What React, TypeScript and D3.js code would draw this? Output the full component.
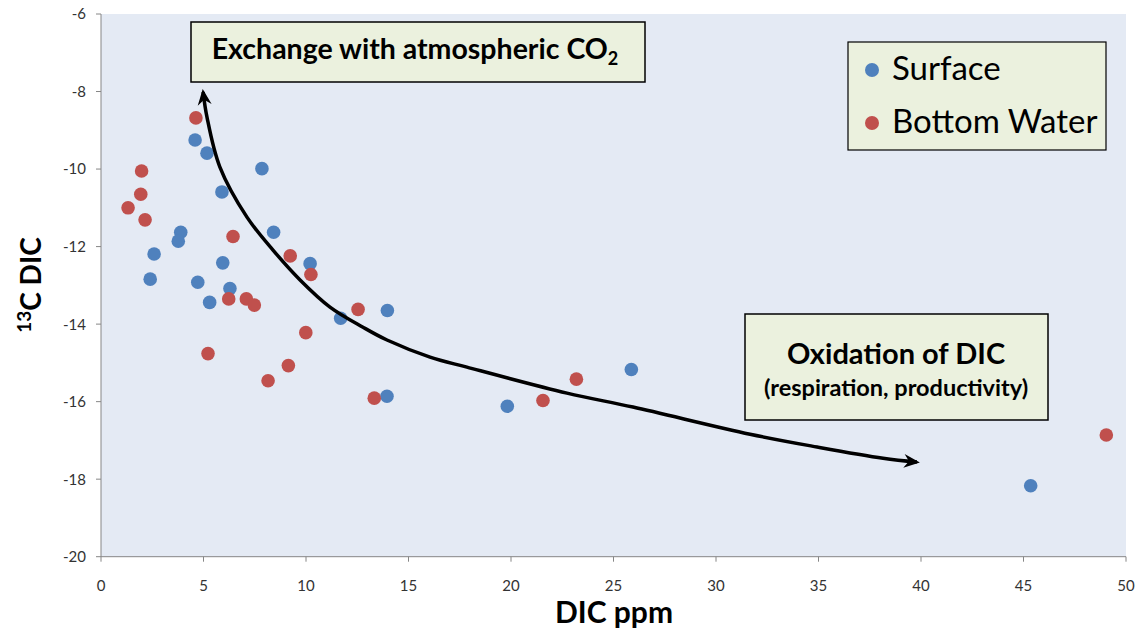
import React from "react";
import * as d3 from "d3";

// ---- Data ----
const surfaceDIC = [4.59, 5.17, 7.85, 5.9, 3.89, 3.77, 8.42, 2.59, 5.94, 10.2, 2.4, 4.72, 6.29, 5.3, 13.97, 11.69, 13.95, 19.82, 25.87, 45.35];
const surfaceC13 = [-9.25, -9.59, -9.99, -10.59, -11.63, -11.86, -11.63, -12.19, -12.42, -12.44, -12.84, -12.92, -13.08, -13.44, -13.65, -13.85, -15.86, -16.12, -15.17, -18.17];

const bottomDIC = [4.63, 1.98, 1.94, 1.32, 2.15, 6.44, 9.23, 10.24, 6.23, 7.09, 7.48, 12.54, 9.99, 5.22, 9.14, 8.15, 13.33, 21.56, 23.19, 49.04];
const bottomC13 = [-8.68, -10.05, -10.65, -11.0, -11.31, -11.74, -12.24, -12.72, -13.35, -13.35, -13.51, -13.62, -14.22, -14.76, -15.07, -15.46, -15.91, -15.97, -15.42, -16.86];

const xTicks = [0, 5, 10, 15, 20, 25, 30, 35, 40, 45, 50];
const yTicks = [-6, -8, -10, -12, -14, -16, -18, -20];

// annotation arrow path (in data units)
const arrowDIC = [4.98, 5.17, 5.8, 7.12, 8.39, 9.71, 11.17, 12.78, 13.95, 16.05, 17.85, 22.73, 25.95, 31.66, 34.93, 38.15, 39.8];
const arrowC13 = [-8.01, -8.66, -9.95, -11.24, -12.09, -12.86, -13.56, -14.08, -14.41, -14.85, -15.11, -15.78, -16.14, -16.84, -17.17, -17.46, -17.56];

const seriesNames = ["Surface", "Bottom Water"];
const seriesColors = ["#4F81BD", "#C0504D"];

const W = 1138;
const H = 630;
const left = 101;
const right = 1126;
const top = 14;
const bottom = 556.7;

export default function App() {
  const x = d3.scaleLinear().domain([0, 50]).range([left, right]);
  const y = d3.scaleLinear().domain([-6, -20]).range([top, bottom]);

  const series = [
    surfaceDIC.map((d, i) => [d, surfaceC13[i]]),
    bottomDIC.map((d, i) => [d, bottomC13[i]]),
  ];

  const arrowPts = arrowDIC.map((d, i) => [d, arrowC13[i]] as [number, number]);
  const line = d3
    .line<[number, number]>()
    .x((d) => x(d[0]))
    .y((d) => y(d[1]))
    .curve(d3.curveCatmullRom.alpha(0.5));

  const font = "Lato, 'Open Sans', sans-serif";
  const boxFill = "#EBF1DE";

  return (
    <svg
      width={W}
      height={H}
      style={{ position: "absolute", left: 0, top: 0, background: "#fff" }}
      fontFamily={font}
    >
      <defs>
        <marker
          id="arr"
          viewBox="-17 -9 21 18"
          markerWidth={21}
          markerHeight={18}
          refX={-3}
          refY={0}
          markerUnits="userSpaceOnUse"
          orient="auto-start-reverse"
        >
          <path d="M0,0 L-16,-7 L-11,0 L-16,7 Z" fill="#000" />
        </marker>
      </defs>

      {/* plot area */}
      <rect x={left} y={top} width={right - left} height={bottom - top} fill="#E4EAF4" />

      {/* axes */}
      <line x1={left} x2={left} y1={top} y2={bottom} stroke="#868686" strokeWidth={1} />
      <line x1={left} x2={right} y1={bottom} y2={bottom} stroke="#868686" strokeWidth={1} />
      {yTicks.map((t) => (
        <g key={"y" + t}>
          <line x1={left - 5} x2={left} y1={y(t)} y2={y(t)} stroke="#868686" />
          <text x={left - 15} y={y(t)} dy="0.36em" textAnchor="end" fontSize={15} fill="#333">
            {t}
          </text>
        </g>
      ))}
      {xTicks.map((t) => (
        <g key={"x" + t}>
          <line x1={x(t)} x2={x(t)} y1={bottom} y2={bottom + 5} stroke="#868686" />
          <text x={x(t)} y={bottom + 34} textAnchor="middle" fontSize={15} fill="#333">
            {t}
          </text>
        </g>
      ))}

      {/* axis titles */}
      <text x={614} y={623} textAnchor="middle" fontSize={30} fontWeight="bold" fill="#000">
        DIC ppm
      </text>
      <text
        transform="translate(41,285) rotate(-90)"
        textAnchor="middle"
        fontSize={28}
        fontWeight="bold"
        fill="#000"
      >
        <tspan fontSize={19} dy={-10}>13</tspan>
        <tspan dy={10}>C DIC</tspan>
      </text>

      {/* points */}
      {series.map((pts, si) =>
        pts.map((p, i) => (
          <circle key={si + "-" + i} cx={x(p[0])} cy={y(p[1])} r={6.8} fill={seriesColors[si]} />
        ))
      )}

      {/* annotation arrow */}
      <path
        d={line(arrowPts) || ""}
        fill="none"
        stroke="#000"
        strokeWidth={3.5}
        markerStart="url(#arr)"
        markerEnd="url(#arr)"
      />

      {/* annotation boxes */}
      <rect x={191} y={22} width={454} height={60} fill={boxFill} stroke="#000" strokeWidth={1.5} />
      <text x={415} y={59} textAnchor="middle" fontSize={28.5} fontWeight="bold" fill="#000">
        Exchange with atmospheric CO
        <tspan fontSize={18} dy={6}>2</tspan>
      </text>

      <rect x={745} y={314} width={303} height={106} fill={boxFill} stroke="#000" strokeWidth={1.5} />
      <text x={896} y={364} textAnchor="middle" fontSize={29} fontWeight="bold" fill="#000">
        Oxidation of DIC
      </text>
      <text x={896} y={396} textAnchor="middle" fontSize={23.5} fontWeight="bold" fill="#000">
        (respiration, productivity)
      </text>

      {/* legend */}
      <rect x={848} y={42} width={258} height={108} fill={boxFill} stroke="#000" strokeWidth={1.2} />
      {seriesNames.map((n, i) => (
        <g key={n}>
          <circle cx={872} cy={70 + i * 53} r={7} fill={seriesColors[i]} />
          <text x={892} y={80 + i * 53} fontSize={33} fill="#000">
            {n}
          </text>
        </g>
      ))}
    </svg>
  );
}
